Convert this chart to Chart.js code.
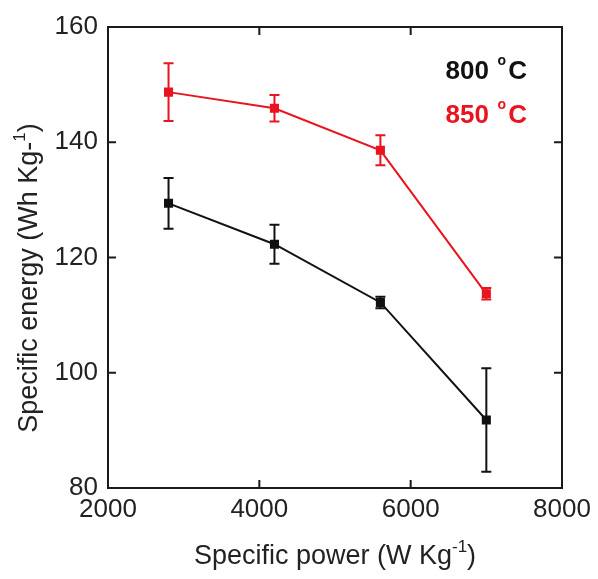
<!DOCTYPE html>
<html>
<head>
<meta charset="utf-8">
<script src="https://cdn.jsdelivr.net/npm/chart.js@4"></script>
<style>
  html, body { margin: 0; padding: 0; background: #fff; }
  #wrap { width: 598px; height: 579px; position: relative; }
</style>
</head>
<body>
<div id="wrap"><canvas id="energyChart"></canvas></div>
<script>
const power = [2800, 4200, 5600, 7000];
const energy800 = [129.4, 122.3, 112.2, 91.8];
const err800 = [4.4, 3.4, 1.0, 9.0];
const energy850 = [148.7, 145.9, 138.6, 113.7];
const err850 = [5.0, 2.3, 2.6, 1.0];
const xTicks = [2000, 4000, 6000, 8000];
const yTicks = [80, 100, 120, 140, 160];

const black = '#111111';
const red = '#e8141e';
const font = 'Liberation Sans, Arial, sans-serif';

const points = ys => power.map((x, i) => ({ x: x, y: ys[i] }));

// text with a raised part: [main, sup, tail]
function supText(c, parts, cx, cy) {
    const big = '27px ' + font, small = '17px ' + font;
    c.font = big; const w1 = c.measureText(parts[0]).width, w3 = c.measureText(parts[2]).width;
    c.font = small; const w2 = c.measureText(parts[1]).width;
    let x = cx - (w1 + w2 + w3) / 2;
    c.textAlign = 'left';
    c.textBaseline = 'middle';
    c.font = big; c.fillText(parts[0], x, cy); x += w1;
    c.font = small; c.fillText(parts[1], x, cy - 10); x += w2;
    c.font = big; c.fillText(parts[2], x, cy);
}

// error bars, inward ticks, frame, axis titles and the two labels
const extras = {
    id: 'extras',
    beforeDatasetsDraw(chart) {
        const c = chart.ctx, xs = chart.scales.x, ys = chart.scales.y;
        chart.data.datasets.forEach(ds => {
            c.save();
            c.strokeStyle = ds.borderColor;
            c.lineWidth = 2;
            ds.data.forEach((p, i) => {
                const px = xs.getPixelForValue(p.x);
                const top = ys.getPixelForValue(p.y + ds.errors[i]);
                const bot = ys.getPixelForValue(p.y - ds.errors[i]);
                c.beginPath();
                c.moveTo(px, top); c.lineTo(px, bot);
                c.moveTo(px - 5, top); c.lineTo(px + 5, top);
                c.moveTo(px - 5, bot); c.lineTo(px + 5, bot);
                c.stroke();
            });
            c.restore();
        });
    },
    afterDraw(chart) {
        const c = chart.ctx, a = chart.chartArea, xs = chart.scales.x, ys = chart.scales.y;
        c.save();
        c.strokeStyle = '#1a1a1a';
        c.lineWidth = 2;
        c.strokeRect(a.left, a.top, a.right - a.left, a.bottom - a.top);
        c.beginPath();
        xTicks.forEach(v => {
            const px = xs.getPixelForValue(v);
            c.moveTo(px, a.bottom); c.lineTo(px, a.bottom - 8);
            c.moveTo(px, a.top); c.lineTo(px, a.top + 8);
        });
        yTicks.forEach(v => {
            const py = ys.getPixelForValue(v);
            c.moveTo(a.left, py); c.lineTo(a.left + 8, py);
            c.moveTo(a.right, py); c.lineTo(a.right - 8, py);
        });
        c.stroke();

        // axis titles
        c.fillStyle = '#222';
        supText(c, ['Specific power (W Kg', '-1', ')'], (a.left + a.right) / 2, 557);
        c.save();
        c.translate(30, 278);
        c.rotate(-Math.PI / 2);
        supText(c, ['Specific energy (Wh Kg-', '1', ')'], 0, 0);
        c.restore();

        c.textBaseline = 'middle';
        c.textAlign = 'right';
        [['800', black, 72], ['850', red, 116]].forEach(([t, col, y]) => {
            c.fillStyle = col;
            c.font = 'bold 26px ' + font;
            c.fillText('C', 527, y);
            c.fillText(t, 489, y);
            c.font = 'bold 14px ' + font;
            c.fillText('o', 506, y - 11);
        });
        c.restore();
    }
};

new Chart(document.getElementById('energyChart'), {
    type: 'scatter',
    data: {
        datasets: [
            { label: '800 °C', data: points(energy800), errors: err800, showLine: true,
              borderColor: black, backgroundColor: black, borderWidth: 2,
              pointStyle: 'rect', pointRadius: 5, pointHoverRadius: 5 },
            { label: '850 °C', data: points(energy850), errors: err850, showLine: true,
              borderColor: red, backgroundColor: red, borderWidth: 2,
              pointStyle: 'rect', pointRadius: 5, pointHoverRadius: 5 }
        ]
    },
    options: {
        responsive: true,
        maintainAspectRatio: false,
        animation: false,
        layout: { padding: { top: 27, right: 36, left: 0, bottom: 0 } },
        plugins: { legend: { display: false }, tooltip: { enabled: false } },
        scales: {
            x: {
                type: 'linear', min: 2000, max: 8000,
                afterFit: s => { s.height = 91; },
                afterBuildTicks: s => { s.ticks = xTicks.map(v => ({ value: v })); },
                ticks: { color: '#222', font: { family: font, size: 26 }, padding: 6, maxRotation: 0,
                         callback: v => String(v) },
                grid: { display: false, drawTicks: false },
                border: { display: false }
            },
            y: {
                min: 80, max: 160,
                afterFit: s => { s.width = 108; },
                afterBuildTicks: s => { s.ticks = yTicks.map(v => ({ value: v })); },
                ticks: { color: '#222', font: { family: font, size: 26 }, padding: 10,
                         callback: v => String(v) },
                grid: { display: false, drawTicks: false },
                border: { display: false }
            }
        }
    },
    plugins: [extras]
});
</script>
</body>
</html>
